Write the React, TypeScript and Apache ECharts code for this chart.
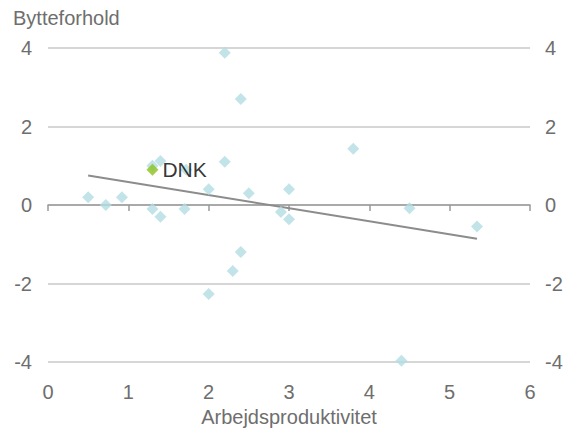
import React, { useEffect, useRef } from "react";
import * as echarts from "echarts";

const xValues = [0.5, 0.72, 0.92, 1.3, 1.3, 1.4, 1.4, 1.7, 1.72, 2.0, 2.0, 2.2, 2.2, 2.3, 2.4, 2.4, 2.5, 2.9, 3.0, 3.0, 3.8, 4.4, 4.5, 5.34];
const yValues = [0.2, 0.0, 0.2, -0.1, 1.0, 1.12, -0.3, -0.1, 0.9, 0.4, -2.27, 3.88, 1.1, -1.68, 2.7, -1.2, 0.3, -0.18, 0.4, -0.36, 1.43, -3.97, -0.08, -0.55];
const dnkPoint = [1.3, 0.9];
const trendX = [0.5, 5.34];
const trendY = [0.75, -0.86];
const xTicks = [0, 6, 1];
const yTicks = [-4, 4, 2];

export default function App() {
  const ref = useRef<HTMLDivElement>(null);
  useEffect(() => {
    if (!ref.current) return;
    const chart = echarts.init(ref.current, undefined, { renderer: "svg" });
    const font = "Liberation Sans, Arial, sans-serif";
    const labelColor = "#6e6e6e";
    const yAxisCommon = {
      type: "value",
      min: yTicks[0],
      max: yTicks[1],
      interval: yTicks[2],
      axisLine: { show: false },
      axisTick: { show: false },
      splitLine: { show: true, lineStyle: { color: "#c8c8c8", width: 1.5 } },
      axisLabel: { color: labelColor, fontSize: 20, fontFamily: font, margin: 16 },
    };
    chart.setOption({
      animation: false,
      grid: { left: 48, right: 43, top: 48, bottom: 66 },
      title: {
        text: "Bytteforhold",
        left: 13,
        top: 8,
        padding: 0,
        textStyle: { color: labelColor, fontSize: 20, fontWeight: "normal", fontFamily: font },
      },
      xAxis: [
        {
          type: "value",
          min: xTicks[0],
          max: xTicks[1],
          interval: xTicks[2],
          position: "bottom",
          axisLine: { show: false, onZero: false },
          axisTick: { show: false },
          splitLine: { show: false },
          axisLabel: { color: labelColor, fontSize: 20, fontFamily: font, margin: 20 },
          name: "Arbejdsproduktivitet",
          nameLocation: "middle",
          nameGap: 45,
          nameTextStyle: { color: labelColor, fontSize: 20, fontFamily: font },
        },
        {
          type: "value",
          min: xTicks[0],
          max: xTicks[1],
          interval: xTicks[2],
          position: "bottom",
          axisLine: { show: true, onZero: true, lineStyle: { color: "#9a9a9a", width: 1.5 } },
          axisTick: { show: true, length: 6, lineStyle: { color: "#9a9a9a", width: 1.5 } },
          splitLine: { show: false },
          axisLabel: { show: false },
        },
      ],
      yAxis: [
        { ...yAxisCommon, position: "left" },
        { ...yAxisCommon, position: "right", splitLine: { show: false }, axisLabel: { ...yAxisCommon.axisLabel, margin: 15 } },
      ],
      series: [
        {
          type: "line",
          xAxisIndex: 0,
          yAxisIndex: 0,
          data: trendX.map((x, i) => [x, trendY[i]]),
          symbol: "none",
          lineStyle: { color: "#8c8c8c", width: 2 },
          z: 1,
        },
        {
          type: "scatter",
          xAxisIndex: 0,
          yAxisIndex: 0,
          data: xValues.map((x, i) => [x, yValues[i]]),
          symbol: "diamond",
          symbolSize: 12,
          itemStyle: { color: "#b3dde2" },
          z: 2,
        },
        {
          type: "scatter",
          xAxisIndex: 0,
          yAxisIndex: 0,
          data: [dnkPoint],
          symbol: "diamond",
          symbolSize: 12,
          itemStyle: { color: "#8cc21f" },
          label: {
            show: true,
            position: "right",
            distance: 4,
            formatter: "DNK",
            color: "#000000",
            fontSize: 21,
            fontFamily: font,
          },
          z: 3,
        },
      ],
    });
    return () => chart.dispose();
  }, []);
  return <div ref={ref} style={{ position: "absolute", left: 0, top: 0, width: 573, height: 432 }} />;
}
